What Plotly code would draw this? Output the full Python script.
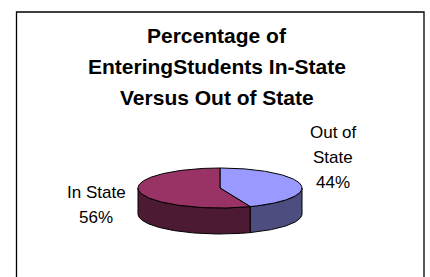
import numpy as np
import plotly.graph_objects as go

# ---- data ----
categories = ["Out of State", "In State"]
values = [44, 56]
label_lines = [["Out of", "State"], ["In State"]]
title_lines = ["Percentage of", "EnteringStudents In-State", "Versus Out of State"]

# ---- styling ----
top_colors = ["#9999FF", "#993366"]
side_colors = ["#4D4D80", "#4D1A33"]
W, H = 430, 277
cx, cy, rx, ry, depth = 220, 188, 82, 20, 26
FONT = "Liberation Sans, Arial, sans-serif"


def pt(theta_deg, dy=0.0):
    t = np.radians(theta_deg)
    return cx + rx * np.sin(t), cy - ry * np.cos(t) + dy


fig = go.Figure()

total = float(sum(values))
starts, ends = [], []
acc = 0.0
for v in values:
    starts.append(acc / total * 360.0)
    acc += v
    ends.append(acc / total * 360.0)

# side walls (front half: 90..270 deg)
for i in range(len(values)):
    a0, a1 = max(starts[i], 90.0), min(ends[i], 270.0)
    if a1 <= a0:
        continue
    th = np.linspace(a0, a1, 80)
    xs_top, ys_top = pt(th)
    xs_bot, ys_bot = pt(th[::-1], depth)
    xs = np.concatenate([xs_top, xs_bot, xs_top[:1]])
    ys = np.concatenate([ys_top, ys_bot, ys_top[:1]])
    fig.add_trace(go.Scatter(x=xs, y=ys, fill="toself", mode="lines",
                             fillcolor=side_colors[i],
                             line=dict(color="black", width=1),
                             hoverinfo="skip", showlegend=False))

# top faces
for i in range(len(values)):
    th = np.linspace(starts[i], ends[i], 160)
    xa, ya = pt(th)
    xs = np.concatenate([[cx], xa, [cx]])
    ys = np.concatenate([[cy], ya, [cy]])
    fig.add_trace(go.Scatter(x=xs, y=ys, fill="toself", mode="lines",
                             fillcolor=top_colors[i],
                             line=dict(color="black", width=1),
                             name=categories[i], hoverinfo="name+text",
                             text=f"{values[i]}%", showlegend=False))

# title lines
title_y = [35, 66, 97]
for txt, y in zip(title_lines, title_y):
    fig.add_annotation(x=217, y=y, xref="x", yref="y", text=f"<b>{txt}</b>",
                       showarrow=False, xanchor="center", yanchor="middle",
                       font=dict(family=FONT, size=21, color="black"))

# data labels
label_pos = [(333, [132, 157, 182]), (96, [192, 217])]
for i in range(len(values)):
    lx, ys = label_pos[i]
    lines = label_lines[i] + [f"{values[i]}%"]
    for txt, y in zip(lines, ys):
        fig.add_annotation(x=lx, y=y, xref="x", yref="y", text=txt,
                           showarrow=False, xanchor="center", yanchor="middle",
                           font=dict(family=FONT, size=17, color="black"))

# chart border
fig.add_shape(type="rect", xref="x", yref="y", x0=16.5, y0=12, x1=424, y1=290,
              line=dict(color="black", width=1.3), fillcolor="rgba(0,0,0,0)")

fig.update_xaxes(range=[0, W], visible=False, fixedrange=True)
fig.update_yaxes(range=[H, 0], visible=False, fixedrange=True)
fig.update_layout(width=W, height=H, margin=dict(l=0, r=0, t=0, b=0),
                  paper_bgcolor="white", plot_bgcolor="white",
                  showlegend=False)

fig.write_html("out.html", config={"displayModeBar": False},
               post_script="document.body.style.margin='0';document.body.style.overflow='hidden';")
